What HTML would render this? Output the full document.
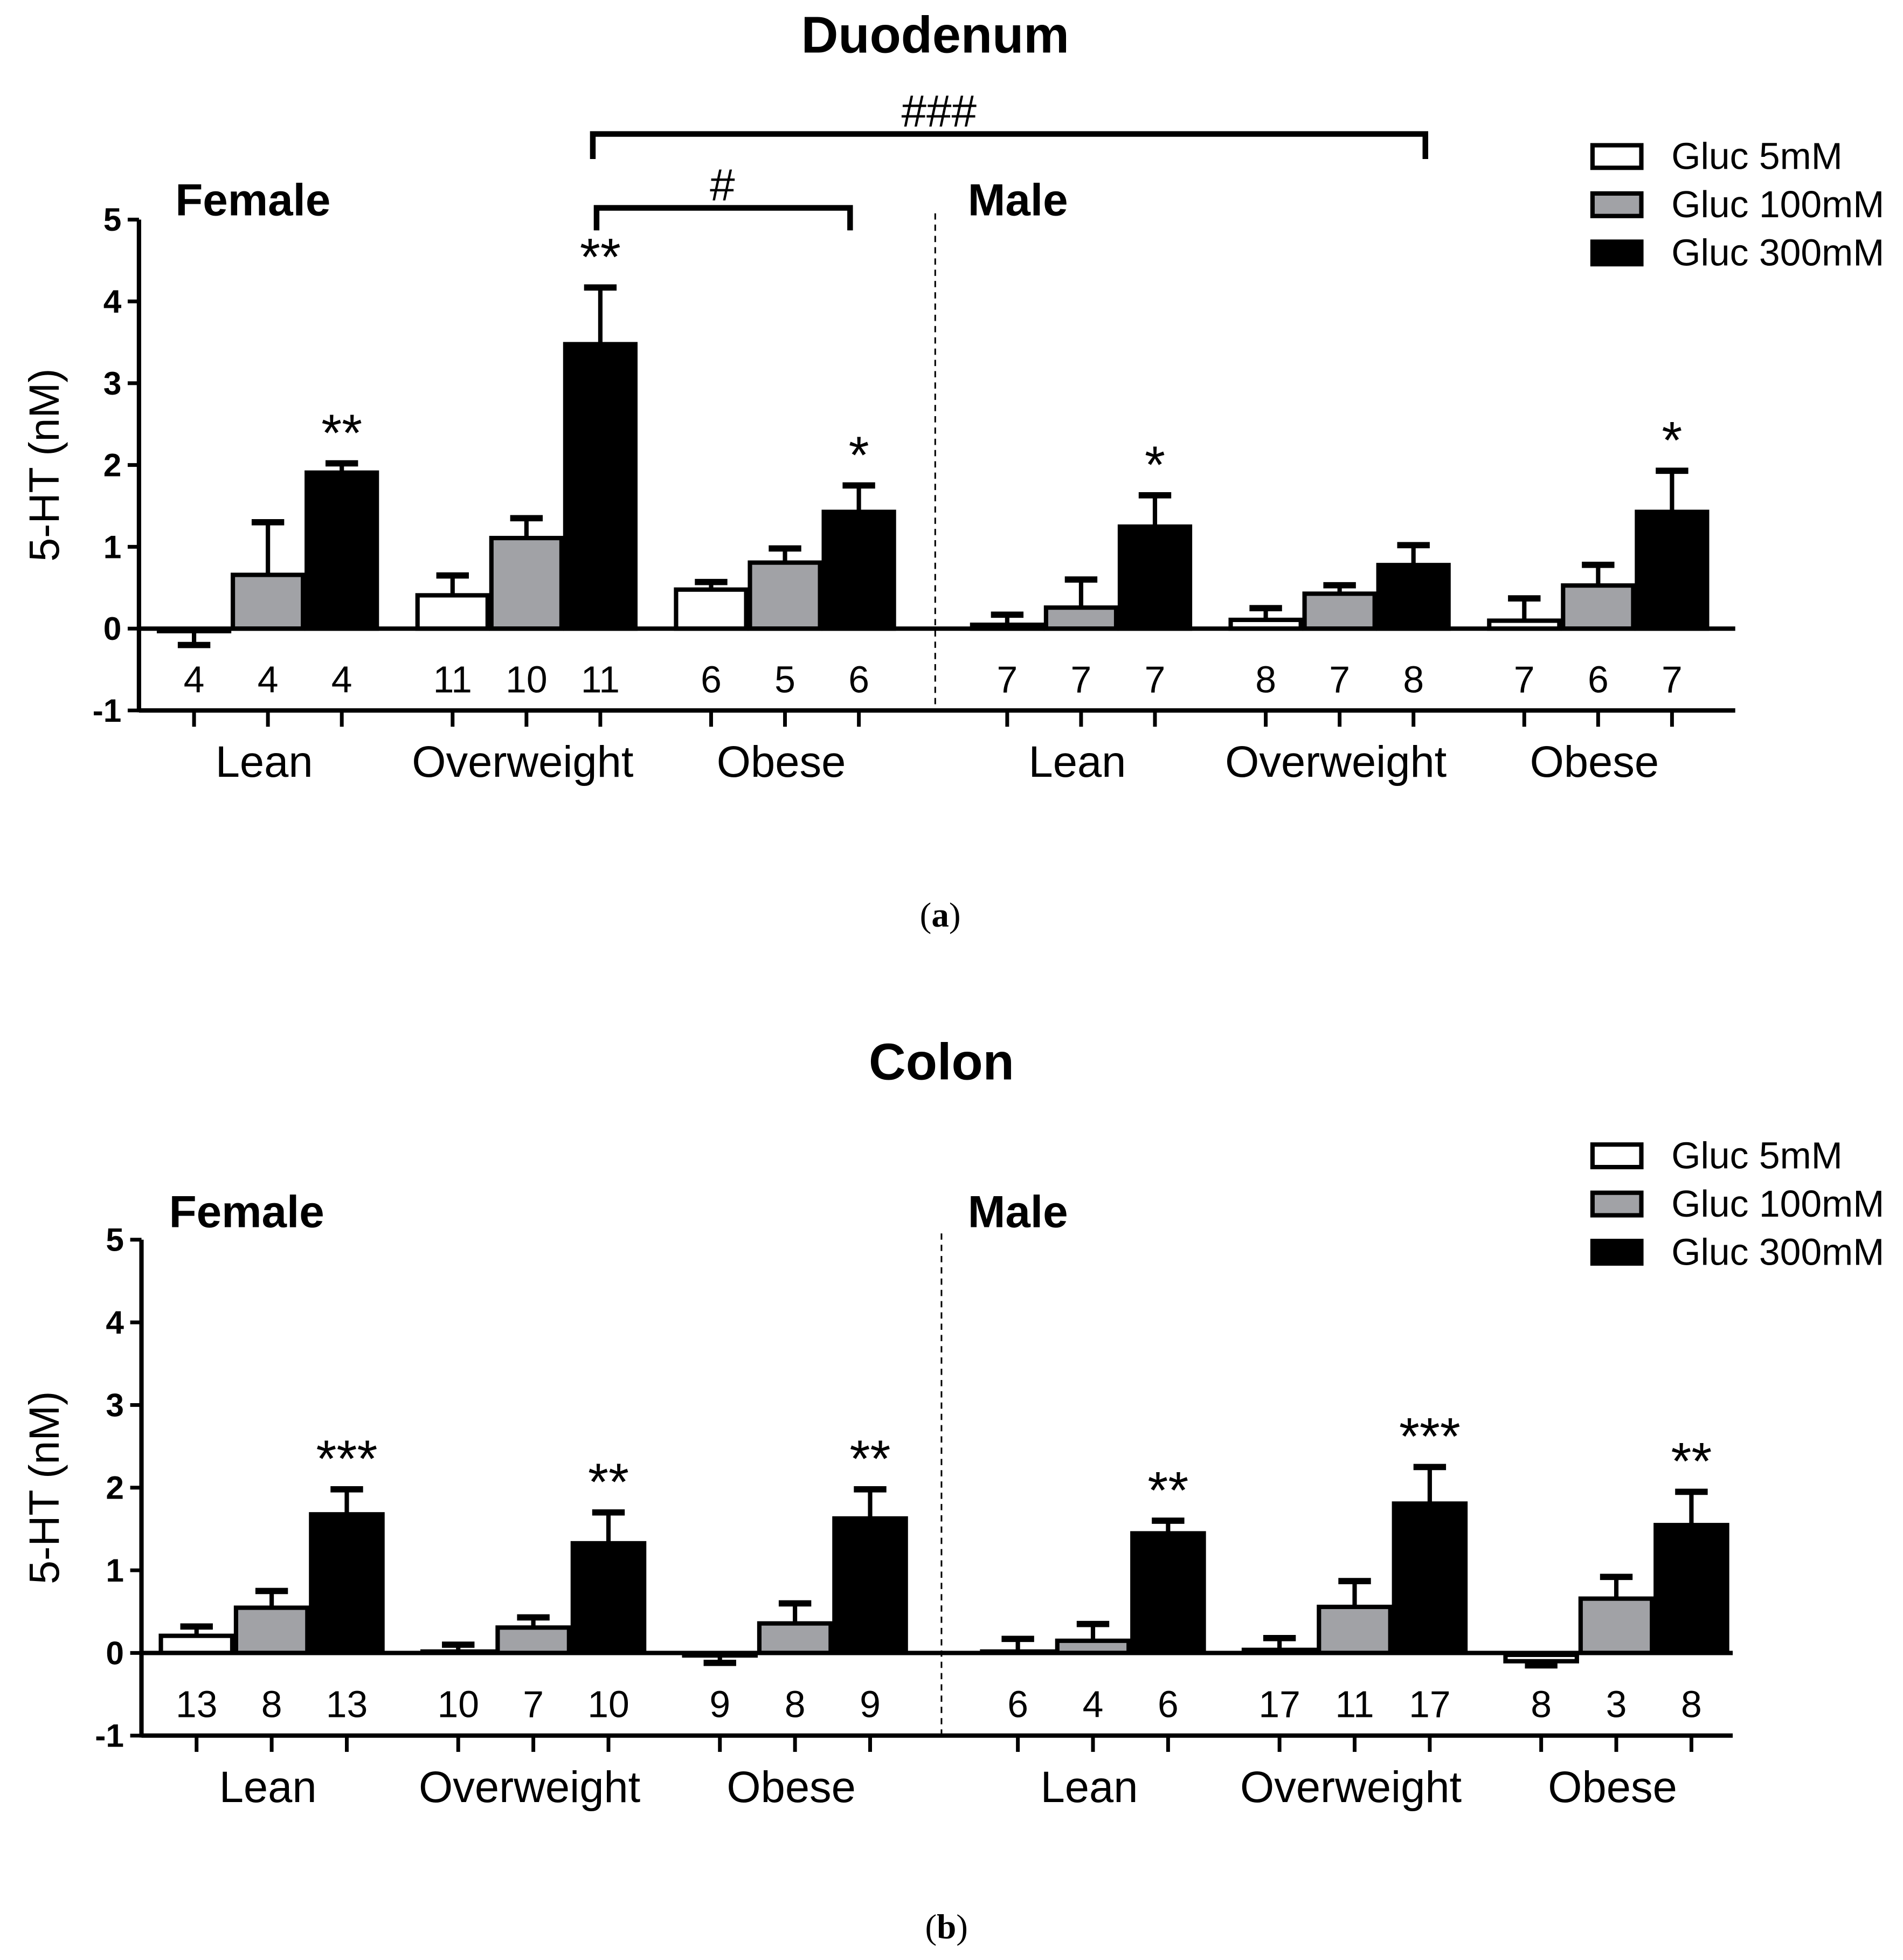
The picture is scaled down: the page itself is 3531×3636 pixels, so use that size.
<!DOCTYPE html>
<html><head><meta charset="utf-8"><style>html,body{margin:0;padding:0;background:#fff}svg{display:block}</style></head>
<body>
<svg id="fig" width="3531" height="3636" viewBox="0 0 1520 1565.2" xmlns="http://www.w3.org/2000/svg" font-family="Liberation Sans, sans-serif">
<rect width="1520" height="1565.2" fill="#fff"/>
</svg>
<script>
// ---- shared categories ----
const groups = ["Lean","Overweight","Obese"];
const sexes = ["Female","Male"];
const series = ["Gluc 5mM","Gluc 100mM","Gluc 300mM"];
const yTicks = [-1,0,1,2,3,4,5];
// ---- Duodenum (a): order Female Lean/OW/Obese then Male Lean/OW/Obese; each [5,100,300] ----
const duoMean = [[-0.02,0.68,1.93],[0.43,1.13,3.5],[0.5,0.83,1.45],[0.07,0.28,1.27],[0.13,0.45,0.8],[0.12,0.55,1.45]];
const duoErr  = [[-0.2,1.3,2.02],[0.65,1.35,4.17],[0.57,0.98,1.75],[0.17,0.6,1.63],[0.25,0.53,1.02],[0.37,0.78,1.93]];
const duoN    = [[4,4,4],[11,10,11],[6,5,6],[7,7,7],[8,7,8],[7,6,7]];
const duoStars= ["**","**","*","*","","*"];
// ---- Colon (b) ----
const colMean = [[0.23,0.57,1.7],[0.04,0.33,1.35],[-0.03,0.38,1.65],[0.04,0.17,1.47],[0.06,0.58,1.83],[-0.1,0.68,1.57]];
const colErr  = [[0.32,0.75,1.98],[0.1,0.43,1.7],[-0.12,0.6,1.98],[0.17,0.35,1.6],[0.18,0.87,2.25],[-0.15,0.92,1.95]];
const colN    = [[13,8,13],[10,7,10],[9,8,9],[6,4,6],[17,11,17],[8,3,8]];
const colStars= ["***","**","**","**","***","**"];

const NS="http://www.w3.org/2000/svg";
const svg=document.getElementById('fig');
function mk(tag,attrs,parent,text){const e=document.createElementNS(NS,tag);for(const k in attrs)e.setAttribute(k,attrs[k]);if(text!==undefined)e.textContent=text;(parent||svg).appendChild(e);return e;}
const fills=["#ffffff","#a1a2a6","#000000"];

function chart(cfg){
  const g=mk('g',{});
  
  
  const y=v=>cfg.y0-(v)*cfg.unit;
  const xc=(gi,bi)=>cfg.x0+(gi%3)*cfg.gStep+(gi>=3?3*cfg.gStep+cfg.maleOff:0)+bi*cfg.bStep;
  const t=mk('text',{x:cfg.titleX,y:cfg.titleY,'font-size':41,'font-weight':'bold','text-anchor':'middle'},g,cfg.title);
  
  
  const ax=mk('line',{x1:cfg.ax,y1:y(5),x2:cfg.ax,y2:y(-1)+1.5,stroke:'#000','stroke-width':3.5},g);
  
  
  yTicks.forEach(v=>{
    mk('line',{x1:cfg.ax-9,y1:y(v),x2:cfg.ax,y2:y(v),stroke:'#000','stroke-width':3},g);
    const tl=mk('text',{x:cfg.ax-14,y:y(v)+9,'font-size':26,'font-weight':'bold','text-anchor':'end'},g,String(v));
    
    
  });
  const yt=mk('text',{x:0,y:0,'font-size':34,'text-anchor':'middle',transform:`translate(47,${y(2)}) rotate(-90)`},g,'5-HT (nM)');
  
  
  const bx=mk('line',{x1:cfg.ax,y1:y(-1),x2:cfg.xEnd,y2:y(-1),stroke:'#000','stroke-width':3.5},g);
  
  
  const ds=mk('line',{x1:cfg.sep,y1:y(5)-5,x2:cfg.sep,y2:y(-1),stroke:'#000','stroke-width':1.3,'stroke-dasharray':'5,4'},g);
  
  
  sexes.forEach((s,i)=>{
    const st=mk('text',{x:cfg.sexX[i],y:cfg.sexY,'font-size':36,'font-weight':'bold'},g,s);
    
    
  });
  const bw=cfg.bStep;
  for(let gi=0;gi<6;gi++){
    for(let bi=0;bi<3;bi++){
      const c=xc(gi,bi),m=cfg.mean[gi][bi],e=cfg.err[gi][bi];
      const top=Math.min(y(m),y(0)),h=Math.abs(y(m)-y(0));
      mk('line',{x1:c,y1:y(m),x2:c,y2:y(e),stroke:'#000','stroke-width':3.5},g);
      const cap=mk('line',{x1:c-13,y1:y(e),x2:c+13,y2:y(e),stroke:'#000','stroke-width':5},g);
      
      
      const r=mk('rect',{x:c-bw/2+1.5,y:top+1.5,width:bw-3,height:Math.max(h-1.5,0.5),fill:fills[bi],stroke:'#000','stroke-width':3.5},g);
      
      
      mk('line',{x1:c,y1:y(-1),x2:c,y2:y(-1)+13,stroke:'#000','stroke-width':3},g);
      const nt=mk('text',{x:c,y:y(-0.55)+15,'font-size':30,'text-anchor':'middle'},g,String(cfg.n[gi][bi]));
      
      
    }
    const star=cfg.stars[gi];
    if(star){
      const c=xc(gi,2),e=cfg.err[gi][2];
      const sx=mk('text',{x:c,y:y(e)-10,'font-size':42,'text-anchor':'middle'},g,star);
      
      
    }
    const gl=mk('text',{x:xc(gi,1)-3,y:y(-1)+53,'font-size':35,'text-anchor':'middle'},g,groups[gi%3]);
    
    
  }
  const z=mk('line',{x1:cfg.ax,y1:y(0),x2:cfg.xEnd,y2:y(0),stroke:'#000','stroke-width':3.5},g);
  
  
  series.forEach((s,i)=>{
    const ly=cfg.legY+i*38.5;
    const lb=mk('rect',{x:1272,y:ly-19,width:39,height:18,fill:fills[i],stroke:'#000','stroke-width':3.5},g);
    
    
    const lt=mk('text',{x:1335,y:ly,'font-size':30},g,s);
    
    
  });
  const cap=mk('text',{x:cfg.titleX+4,y:cfg.capY,'font-size':28,'text-anchor':'middle','font-family':'Liberation Serif, serif'},g);
  mk('tspan',{},cap,'(');mk('tspan',{'font-weight':'bold'},cap,cfg.cap);mk('tspan',{},cap,')');
  
  
  return {g,y,xc};
}

const A=chart({name:'duodenum-chart',title:'Duodenum',titleX:747,titleY:42,y0:502,unit:65.33,ax:111,xEnd:1386,sep:747,
  x0:155,gStep:206.5,bStep:59,maleOff:30,mean:duoMean,err:duoErr,n:duoN,stars:duoStars,sexX:[140,773],sexY:172,legY:135,cap:'a',capY:740});
function bracket(x1,x2,yTop,yLeg,label,lx,name){
  const p=mk('path',{d:`M${x1},${yLeg} V${yTop} H${x2} V${yLeg}`,fill:'none',stroke:'#000','stroke-width':4.5},A.g);
  
  
  const t=mk('text',{x:lx,y:yTop-6,'font-size':36,'text-anchor':'middle'},A.g,label);
  
  
}
bracket(A.xc(1,2)-6,A.xc(5,0)-79,107,127,'###',750,'bracket-ow-vs-male');
bracket(A.xc(1,2)-3,A.xc(2,2)-7,166,184,'#',577,'bracket-ow-vs-obese');

chart({name:'colon-chart',title:'Colon',titleX:752,titleY:862,y0:1320,unit:66,ax:113,xEnd:1384,sep:752,
  x0:157,gStep:209,bStep:60,maleOff:29,mean:colMean,err:colErr,n:colN,stars:colStars,sexX:[135,773],sexY:980,legY:933,cap:'b',capY:1548});
</script>
</body></html>
